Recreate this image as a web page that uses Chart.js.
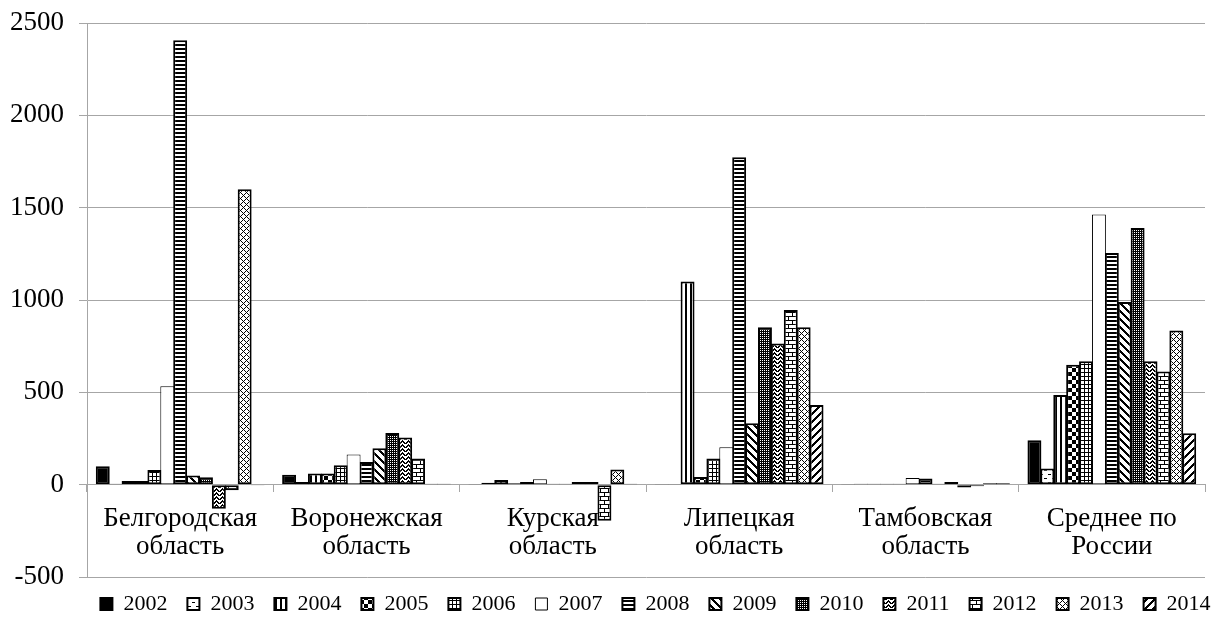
<!DOCTYPE html>
<html>
<head>
<meta charset="utf-8">
<script src="https://cdn.jsdelivr.net/npm/chart.js@4.4.1/dist/chart.umd.min.js"></script>
<style>
  html, body { margin: 0; padding: 0; background: #fff; }
  #wrap { width: 1219px; height: 629px; }
</style>
</head>
<body>
<div id="wrap"><canvas id="regions-chart"></canvas></div>
<script>
const regions = [
  ["Белгородская", "область"],
  ["Воронежская", "область"],
  ["Курская", "область"],
  ["Липецкая", "область"],
  ["Тамбовская", "область"],
  ["Среднее по", "России"],
];
const years = ["2002", "2003", "2004", "2005", "2006", "2007", "2008",
  "2009", "2010", "2011", "2012", "2013", "2014"];

// values per year: Белгород, Воронеж, Курск, Липецк, Тамбов, Россия
const y2002 = [100, 54, 3, 3, 3, 241];
const y2003 = [5, 15, 10, 3, 5, 87];
const y2004 = [20, 60, 25, 1100, 5, 486];
const y2005 = [20, 60, 8, 41, 5, 650];
const y2006 = [80, 105, 15, 142, 5, 668];
const y2007 = [533, 163, 30, 202, 36, 1463];
const y2008 = [2406, 123, 5, 1773, 33, 1254];
const y2009 = [50, 197, 5, 332, 5, 989];
const y2010 = [40, 280, 15, 853, 15, 1390];
const y2011 = [-130, 256, 15, 764, -15, 668];
const y2012 = [-30, 142, -195, 946, -8, 613];
const y2013 = [1600, 5, 82, 853, 8, 835];
const y2014 = [-5, 5, 5, 432, 8, 278];
const yearValues = [y2002, y2003, y2004, y2005, y2006, y2007, y2008,
  y2009, y2010, y2011, y2012, y2013, y2014];

const yTicks = [-500, 0, 500, 1000, 1500, 2000, 2500];

// small black/white fill patterns, one per year
function pattern(w, h, isBlack, bg) {
  const c = document.createElement("canvas");
  c.width = w;
  c.height = h;
  const g = c.getContext("2d");
  g.fillStyle = bg || "#fff";
  g.fillRect(0, 0, w, h);
  g.fillStyle = bg === "#000" ? "#fff" : "#000";
  for (let x = 0; x < w; x++) {
    for (let y = 0; y < h; y++) {
      if (isBlack(x, y)) g.fillRect(x, y, 1, 1);
    }
  }
  return g.createPattern(c, "repeat");
}

const fills = [
  "#000",
  pattern(8, 8, (x, y) => (y === 2 && x < 3) || (y === 6 && x >= 4 && x < 7)),
  pattern(5, 1, (x) => x < 2),
  pattern(8, 8, (x, y) => (x < 4) === (y < 4)),
  pattern(4, 4, (x, y) => x === 0 || y === 0),
  "#fff",
  pattern(1, 4, (x, y) => y === 0 || y === 1),
  pattern(8, 8, (x, y) => ((x - y + 8) % 8) < 3),
  pattern(2, 2, (x, y) => x === 0 && y === 0, "#000"),
  pattern(6, 4, (x, y) => y === 3 - Math.abs(x - 3) || y === 4 - Math.abs(x - 3)),
  pattern(8, 8, (x, y) => y === 0 || y === 4 || (x === 0 && y < 4) || (x === 4 && y >= 4)),
  pattern(6, 6, (x, y) => (x + y) % 6 === 0 || (x - y + 6) % 6 === 0),
  pattern(8, 8, (x, y) => ((x + y) % 8) < 3),
];

const serif = "'Liberation Serif', 'Times New Roman', serif";
const gridGray = "#a6a6a6";

const datasets = years.map((year, i) => ({
  label: year,
  data: yearValues[i],
  backgroundColor: fills[i],
  borderColor: "#000",
  borderWidth: i === 5 ? 1 : 2,
  borderSkipped: false,
  categoryPercentage: 0.9,
  barPercentage: 1.08,
}));

// legend row sits a bit right of centre in the original
const legendNudge = {
  id: "legendNudge",
  afterLayout(chart) {
    const lg = chart.legend;
    lg.left += 53;
    lg.right += 53;
    lg.top -= 4;
    lg.bottom -= 4;
  },
};

const config = {
  type: "bar",
  data: { labels: regions, datasets: datasets },
  plugins: [legendNudge],
  options: {
    responsive: true,
    maintainAspectRatio: false,
    animation: false,
    layout: { padding: { left: 0, right: 14, top: 23, bottom: 0 } },
    plugins: {
      tooltip: { enabled: false },
      legend: {
        position: "bottom",
        labels: {
          color: "#000",
          boxWidth: 12,
          boxHeight: 12,
          padding: 20,
          font: { family: serif, size: 22 },
        },
      },
    },
    scales: {
      x: {
        position: { y: 0 },
        afterFit: (scale) => { scale.paddingTop = 0; scale.paddingBottom = 0; },
        grid: { drawOnChartArea: false, offset: true, tickLength: 7, color: gridGray },
        border: { color: gridGray },
        ticks: {
          color: "#000",
          font: { family: serif, size: 27, lineHeight: 1.05 },
          padding: 13,
          maxRotation: 0,
          autoSkip: false,
        },
      },
      y: {
        min: yTicks[0],
        max: yTicks[yTicks.length - 1],
        afterBuildTicks: (axis) => { axis.ticks = yTicks.map((v) => ({ value: v })); },
        afterFit: (scale) => { scale.width = 87; scale.paddingTop = 0; scale.paddingBottom = 0; },
        grid: { color: gridGray, tickLength: 8 },
        border: { color: gridGray },
        ticks: {
          color: "#000",
          padding: 15,
          font: { family: serif, size: 27 },
          callback: (v) => String(v),
        },
      },
    },
  },
};

const regionsChart = new Chart(document.getElementById("regions-chart"), config);
</script>
</body>
</html>
